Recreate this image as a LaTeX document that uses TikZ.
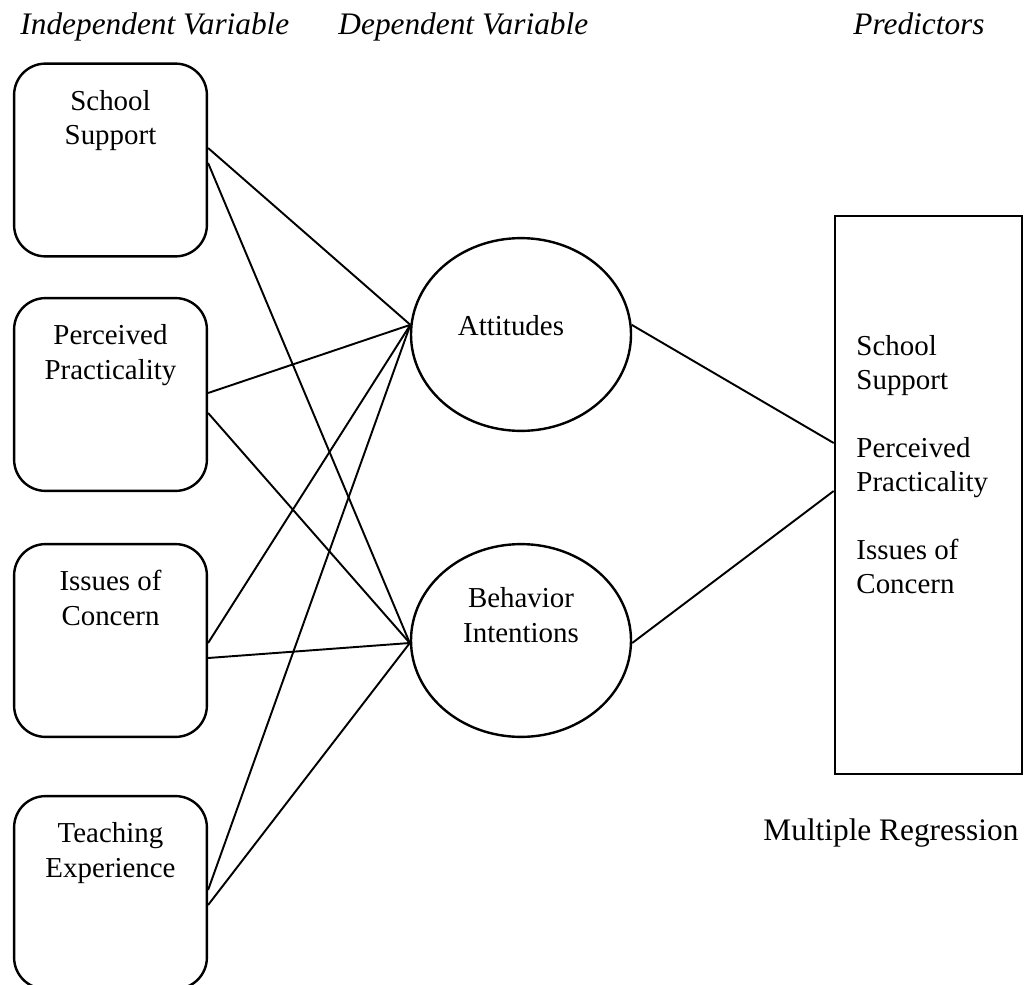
\documentclass[tikz,border=0pt]{standalone}
\usepackage{fontspec}
\setmainfont{Liberation Serif}
\usetikzlibrary{shapes.geometric,calc}

\begin{document}
\begin{tikzpicture}[x=0.415pt,y=-0.415pt,
    ivbox/.style={draw,line width=1pt,rounded corners=13pt,minimum width=80pt,minimum height=80pt,inner sep=0pt},
    dvnode/.style={draw,ellipse,line width=1pt,minimum width=91.3pt,minimum height=80pt,inner sep=0pt},
    mrbox/.style={draw,line width=1.1pt,minimum width=77.6pt,minimum height=231.6pt,inner sep=0pt},
    boxtext/.style={align=center,font=\fontsize{12}{14.5}\selectfont,anchor=base,inner sep=0pt},
    listtext/.style={align=left,font=\fontsize{12}{14.1}\selectfont,anchor=base west,inner sep=0pt},
    heading/.style={font=\fontsize{13}{15.6}\selectfont\itshape,anchor=base west,inner sep=0pt},
    caption/.style={font=\fontsize{13}{15.6}\selectfont,anchor=base west,inner sep=0pt},
    link/.style={line width=0.8pt}]
  \clip (0,0) rectangle (1025,985);

  % headings
  \node[heading] (ivH) at (20,35) {Independent Variable};
  \node[heading] (dvH) at (338,35) {Dependent Variable};
  \node[heading] (prH) at (853,35) {Predictors};

  % independent variables (text base = last line)
  \node[ivbox] (ss) at (110.5,160) {};
  \node[ivbox] (pp) at (110.5,394.5) {};
  \node[ivbox] (ic) at (110.5,640.5) {};
  \node[ivbox] (te) at (110.5,892.5) {};
  \node[boxtext] (ssT) at (110.5,145) {School\\Support};
  \node[boxtext] (ppT) at (110.5,379) {Perceived\\Practicality};
  \node[boxtext] (icT) at (110.5,625) {Issues of\\Concern};
  \node[boxtext] (teT) at (110.5,877) {Teaching\\Experience};

  % dependent variables
  \node[dvnode] (att) at (521,334.5) {};
  \node[dvnode] (beh) at (521,640.5) {};
  \node[boxtext] (attT) at (511,335) {Attitudes};
  \node[boxtext] (behT) at (521,642) {Behavior\\Intentions};

  % predictors
  \node[mrbox] (mr) at (928.5,495) {};
  \node[listtext] (mrT) at (856,593) {School\\Support\\[14.1pt]Perceived\\Practicality\\[14.1pt]Issues of\\Concern};
  \node[caption] (mrC) at (763,840) {Multiple Regression};

  \foreach \iv/\a/\b in {ss/-12/3, pp/-1.5/18.5, ic/2.5/17.5, te/-2.5/12.5} {
      \draw[link] ($(\iv.east)+(0,\a)$) -- (att.175);
      \draw[link] ($(\iv.east)+(0,\b)$) -- ($(beh.west)+(0,2.5)$);
    }
  \draw[link] (att.5) -- ($(mr.west)+(0,-52)$);
  \draw[link] ($(beh.east)+(0,2.5)$) -- ($(mr.west)+(0,-4)$);
\end{tikzpicture}
\end{document}
